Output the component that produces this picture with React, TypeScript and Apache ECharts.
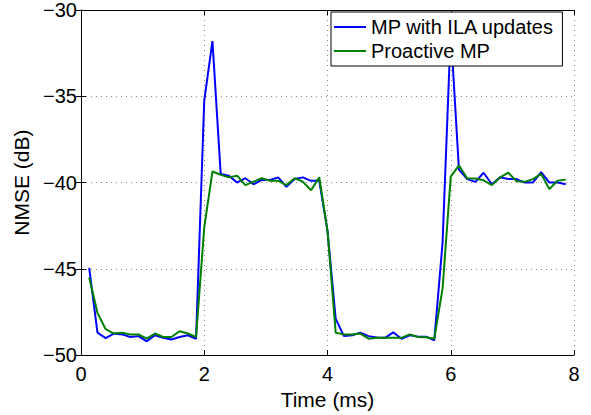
import React, { useEffect, useRef } from "react";
import * as echarts from "echarts";

const times = [
  0.133, 0.267, 0.4, 0.533, 0.667, 0.8, 0.933, 1.067, 1.2, 1.333, 1.467, 1.6, 1.733, 1.867,
  2.0, 2.133, 2.267, 2.4, 2.533, 2.667, 2.8, 2.933, 3.067, 3.2, 3.333, 3.467, 3.6, 3.733, 3.867,
  4.0, 4.133, 4.267, 4.4, 4.533, 4.667, 4.8, 4.933, 5.067, 5.2, 5.333, 5.467, 5.6, 5.733, 5.867,
  6.0, 6.133, 6.267, 6.4, 6.533, 6.667, 6.8, 6.933, 7.067, 7.2, 7.333, 7.467, 7.6, 7.733, 7.867,
];

const mpIla = [
  -44.95, -48.7, -49.02, -48.75, -48.8, -48.95, -48.9, -49.2, -48.85, -49.0, -49.1, -48.95, -48.85, -49.05,
  -35.25, -31.8, -39.5, -39.6, -40.0, -39.75, -40.1, -39.85, -39.85, -39.7, -40.25, -39.8, -39.7, -39.9, -39.9,
  -42.8, -47.9, -48.9, -48.85, -48.7, -48.9, -48.98, -49.0, -48.68, -49.05, -48.85, -48.93, -48.93, -49.15,
  -43.5, -31.2, -39.25, -39.8, -39.96, -39.43, -40.1, -39.7, -39.8, -39.8, -40.0, -40.0, -39.4, -40.0, -40.0, -40.1,
];

const proactive = [
  -45.5, -47.55, -48.5, -48.75, -48.7, -48.8, -48.8, -49.05, -48.75, -48.95, -48.95, -48.62, -48.75, -48.95,
  -42.6, -39.36, -39.55, -39.7, -39.6, -40.15, -39.95, -39.75, -39.9, -39.9, -40.15, -39.75, -39.95, -40.45, -39.7,
  -42.8, -48.7, -48.8, -48.8, -48.75, -49.05, -49.0, -49.0, -49.0, -49.0, -48.8, -48.95, -48.97, -49.05,
  -46.15, -39.66, -39.0, -39.77, -39.77, -39.87, -40.15, -39.7, -39.43, -39.92, -39.96, -39.8, -39.5, -40.38, -39.9, -39.83,
];

const seriesNames = ["MP with ILA updates", "Proactive MP"];
const xTicks = { min: 0, max: 8, interval: 2 };
const yTicks = { min: -50, max: -30, interval: 5 };

const FONT = "'Liberation Sans', Arial, Helvetica, sans-serif";

export default function App() {
  const ref = useRef<HTMLDivElement>(null);
  useEffect(() => {
    if (!ref.current) return;
    const chart = echarts.init(ref.current, null, { renderer: "svg" });
    const minus = (v: number) => String(v).replace("-", "\u2212");
    const tickStyle = { show: true, inside: true, length: 5, lineStyle: { color: "#000", width: 1 } };
    const axisLine = { show: true, lineStyle: { color: "#000", width: 1 } };
    const grid = { show: true, lineStyle: { color: "#8a8a8a", width: 1, type: [1, 4] as any } };
    chart.setOption({
      animation: false,
      backgroundColor: "#fff",
      textStyle: { fontFamily: FONT },
      grid: { left: 81, right: 17, top: 7, bottom: 54, containLabel: false },
      legend: {
        orient: "vertical",
        left: 331,
        top: 12,
        padding: [5, 8, 5, 3],
        itemGap: 4,
        itemWidth: 32,
        itemHeight: 2,
        itemTextGap: 2,
        icon: "rect",
        backgroundColor: "#fff",
        borderColor: "#000",
        borderWidth: 1,
        borderRadius: 0,
        textStyle: { fontSize: 20, color: "#000", fontFamily: FONT },
        data: seriesNames,
      },
      xAxis: [
        {
          type: "value",
          ...xTicks,
          position: "bottom",
          axisLine,
          axisTick: tickStyle,
          splitLine: grid,
          axisLabel: { fontSize: 20, color: "#000", margin: 9, fontFamily: FONT },
          name: "Time (ms)",
          nameLocation: "middle",
          nameGap: 30,
          nameTextStyle: { fontSize: 21, color: "#000", fontFamily: FONT },
        },
        {
          type: "value",
          ...xTicks,
          position: "top",
          axisLine,
          axisTick: tickStyle,
          splitLine: { show: false },
          axisLabel: { show: false },
        },
      ],
      yAxis: [
        {
          type: "value",
          ...yTicks,
          position: "left",
          axisLine,
          axisTick: tickStyle,
          splitLine: grid,
          axisLabel: { fontSize: 20, color: "#000", margin: 4, formatter: minus, fontFamily: FONT },
          name: "NMSE (dB)",
          nameLocation: "middle",
          nameGap: 47,
          nameTextStyle: { fontSize: 21, color: "#000", fontFamily: FONT },
        },
        {
          type: "value",
          ...yTicks,
          position: "right",
          axisLine,
          axisTick: tickStyle,
          splitLine: { show: false },
          axisLabel: { show: false },
        },
      ],
      series: [
        {
          name: seriesNames[0],
          type: "line",
          xAxisIndex: 0,
          yAxisIndex: 0,
          symbol: "none",
          lineStyle: { color: "#0000ff", width: 2 },
          itemStyle: { color: "#0000ff" },
          data: times.map((t, i) => [t, mpIla[i]]),
        },
        {
          name: seriesNames[1],
          type: "line",
          xAxisIndex: 0,
          yAxisIndex: 0,
          symbol: "none",
          lineStyle: { color: "#008000", width: 2 },
          itemStyle: { color: "#008000" },
          data: times.map((t, i) => [t, proactive[i]]),
        },
      ],
    });
    return () => chart.dispose();
  }, []);
  return (
    <div
      ref={ref}
      style={{ position: "fixed", left: 0, top: 0, width: 591, height: 415, background: "#fff" }}
    />
  );
}
